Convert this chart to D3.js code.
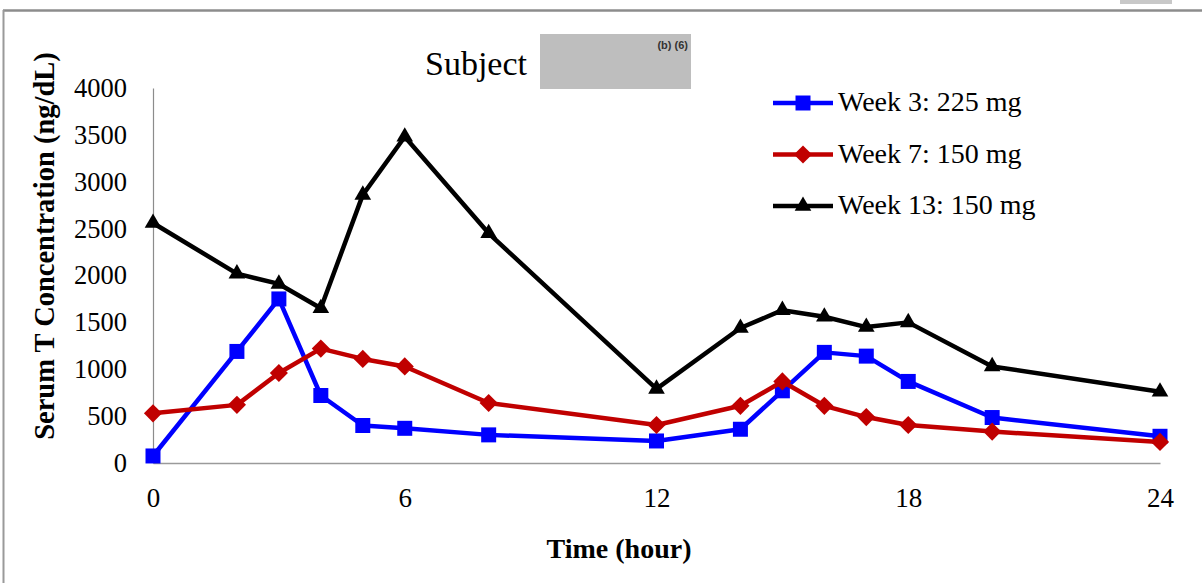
<!DOCTYPE html>
<html>
<head>
<meta charset="utf-8">
<script src="https://cdn.jsdelivr.net/npm/d3@7"></script>
<style>
  body { margin: 0; background: #fff; }
  svg { display: block; }
  .serif { font-family: "Liberation Serif", "Times New Roman", serif; }
</style>
</head>
<body>
<script>
// sampling times (hours) and serum T values (ng/dL)
var hours = [0, 2, 3, 4, 5, 6, 8, 12, 14, 15, 16, 17, 18, 20, 24];
var week3 = [75, 1190, 1750, 720, 400, 370, 300, 235, 360, 770, 1180, 1140, 870, 485, 285];
var week7 = [530, 620, 960, 1220, 1110, 1030, 640, 405, 610, 870, 610, 490, 405, 335, 225];
var week13 = [2560, 2020, 1910, 1650, 2860, 3480, 2450, 790, 1440, 1630, 1560, 1450, 1500, 1030, 760];

var seriesNames = ["Week 3: 225 mg", "Week 7: 150 mg", "Week 13: 150 mg"];
var xTicks = [0, 6, 12, 18, 24];
var yTicks = [0, 500, 1000, 1500, 2000, 2500, 3000, 3500, 4000];

var width = 1202, height = 583;
var plot = {left: 153, right: 1160, top: 88, bottom: 463};

var series = [
  {name: seriesNames[0], values: week3, color: "#0000ff", shape: "square"},
  {name: seriesNames[1], values: week7, color: "#c00000", shape: "diamond"},
  {name: seriesNames[2], values: week13, color: "#000000", shape: "triangle"}
];

var svg = d3.select("body").append("svg")
    .attr("width", width)
    .attr("height", height);

// page frame
svg.append("rect").attr("x", 1120).attr("y", 0).attr("width", 52).attr("height", 4).attr("fill", "#c8c8c8");
svg.append("line").attr("x1", 3).attr("x2", width).attr("y1", 10.5).attr("y2", 10.5)
    .attr("stroke", "#8c8c8c").attr("stroke-width", 2.5);
svg.append("line").attr("x1", 3.5).attr("x2", 3.5).attr("y1", 10).attr("y2", height)
    .attr("stroke", "#9a9a9a").attr("stroke-width", 2);

var xScale = d3.scaleLinear().domain([0, 24]).range([plot.left, plot.right]);
var yScale = d3.scaleLinear().domain([0, 4000]).range([plot.bottom, plot.top]);

// y axis
var yAxis = d3.axisLeft(yScale).tickValues(yTicks).tickFormat(d3.format("d"))
    .tickSize(0).tickSizeOuter(0).tickPadding(26);
var gy = svg.append("g").attr("transform", "translate(" + plot.left + ",0)").call(yAxis);
gy.select(".domain").attr("stroke", "#8c8c8c").attr("stroke-width", 1.2);
gy.selectAll("text").attr("class", "serif").style("font-size", "26.5px").attr("fill", "#000");

// x axis
var xAxis = d3.axisBottom(xScale).tickValues(xTicks).tickSize(0).tickSizeOuter(0).tickPadding(25);
var gx = svg.append("g").attr("transform", "translate(0," + plot.bottom + ")").call(xAxis);
gx.select(".domain").attr("stroke", "#9a9a9a").attr("stroke-width", 1.5);
gx.selectAll("text").attr("class", "serif").style("font-size", "27px").attr("fill", "#000");

// axis titles
svg.append("text").attr("class", "serif")
    .attr("transform", "translate(54,246) rotate(-90)")
    .attr("text-anchor", "middle")
    .style("font-size", "28.5px").style("font-weight", "bold")
    .text("Serum T Concentration (ng/dL)");

svg.append("text").attr("class", "serif")
    .attr("x", 619).attr("y", 558)
    .attr("text-anchor", "middle")
    .style("font-size", "28px").style("font-weight", "bold")
    .text("Time (hour)");

// title with redaction box
svg.append("text").attr("class", "serif")
    .attr("x", 425).attr("y", 75)
    .style("font-size", "34px")
    .text("Subject");
svg.append("rect").attr("x", 540).attr("y", 34).attr("width", 151).attr("height", 55).attr("fill", "#bebebe");
svg.append("text")
    .attr("x", 688).attr("y", 49)
    .attr("text-anchor", "end")
    .style("font-family", "Liberation Sans, Arial, sans-serif")
    .style("font-size", "11px").style("font-weight", "bold")
    .attr("fill", "#333")
    .text("(b) (6)");

function markerPath(shape) {
  if (shape == "square") return d3.symbol().type(d3.symbolSquare).size(225)();
  if (shape == "diamond") return d3.symbol().type(d3.symbolSquare).size(165)();
  return d3.symbol().type(d3.symbolTriangle).size(120)();
}

var line = d3.line()
    .x(function(d) { return xScale(d[0]); })
    .y(function(d) { return yScale(d[1]); });

series.forEach(function(s) {
  var pts = hours.map(function(h, i) { return [h, s.values[i]]; });
  var g = svg.append("g");
  g.append("path")
      .attr("d", line(pts))
      .attr("fill", "none")
      .attr("stroke", s.color)
      .attr("stroke-width", 4.5)
      .attr("stroke-linejoin", "round");
  g.selectAll("path.mark")
      .data(pts)
      .enter()
      .append("path")
      .attr("class", "mark")
      .attr("d", markerPath(s.shape))
      .attr("transform", function(d) {
        var t = "translate(" + xScale(d[0]) + "," + yScale(d[1]) + ")";
        return s.shape == "diamond" ? t + " rotate(45)" : t;
      })
      .attr("fill", s.color);
});

// legend
var legend = svg.selectAll("g.legend")
    .data(series)
    .enter()
    .append("g")
    .attr("class", "legend")
    .attr("transform", function(d, i) { return "translate(773," + (103 + i * 51.5) + ")"; });

legend.append("line")
    .attr("x1", 0).attr("x2", 60)
    .attr("stroke", function(d) { return d.color; })
    .attr("stroke-width", 4.5);
legend.append("path")
    .attr("d", function(d) { return markerPath(d.shape); })
    .attr("transform", function(d) { return d.shape == "diamond" ? "translate(30,0) rotate(45)" : "translate(30,0)"; })
    .attr("fill", function(d) { return d.color; });
legend.append("text")
    .attr("class", "serif")
    .attr("x", 65).attr("y", 8)
    .style("font-size", "28px")
    .text(function(d) { return d.name; });
</script>
</body>
</html>
